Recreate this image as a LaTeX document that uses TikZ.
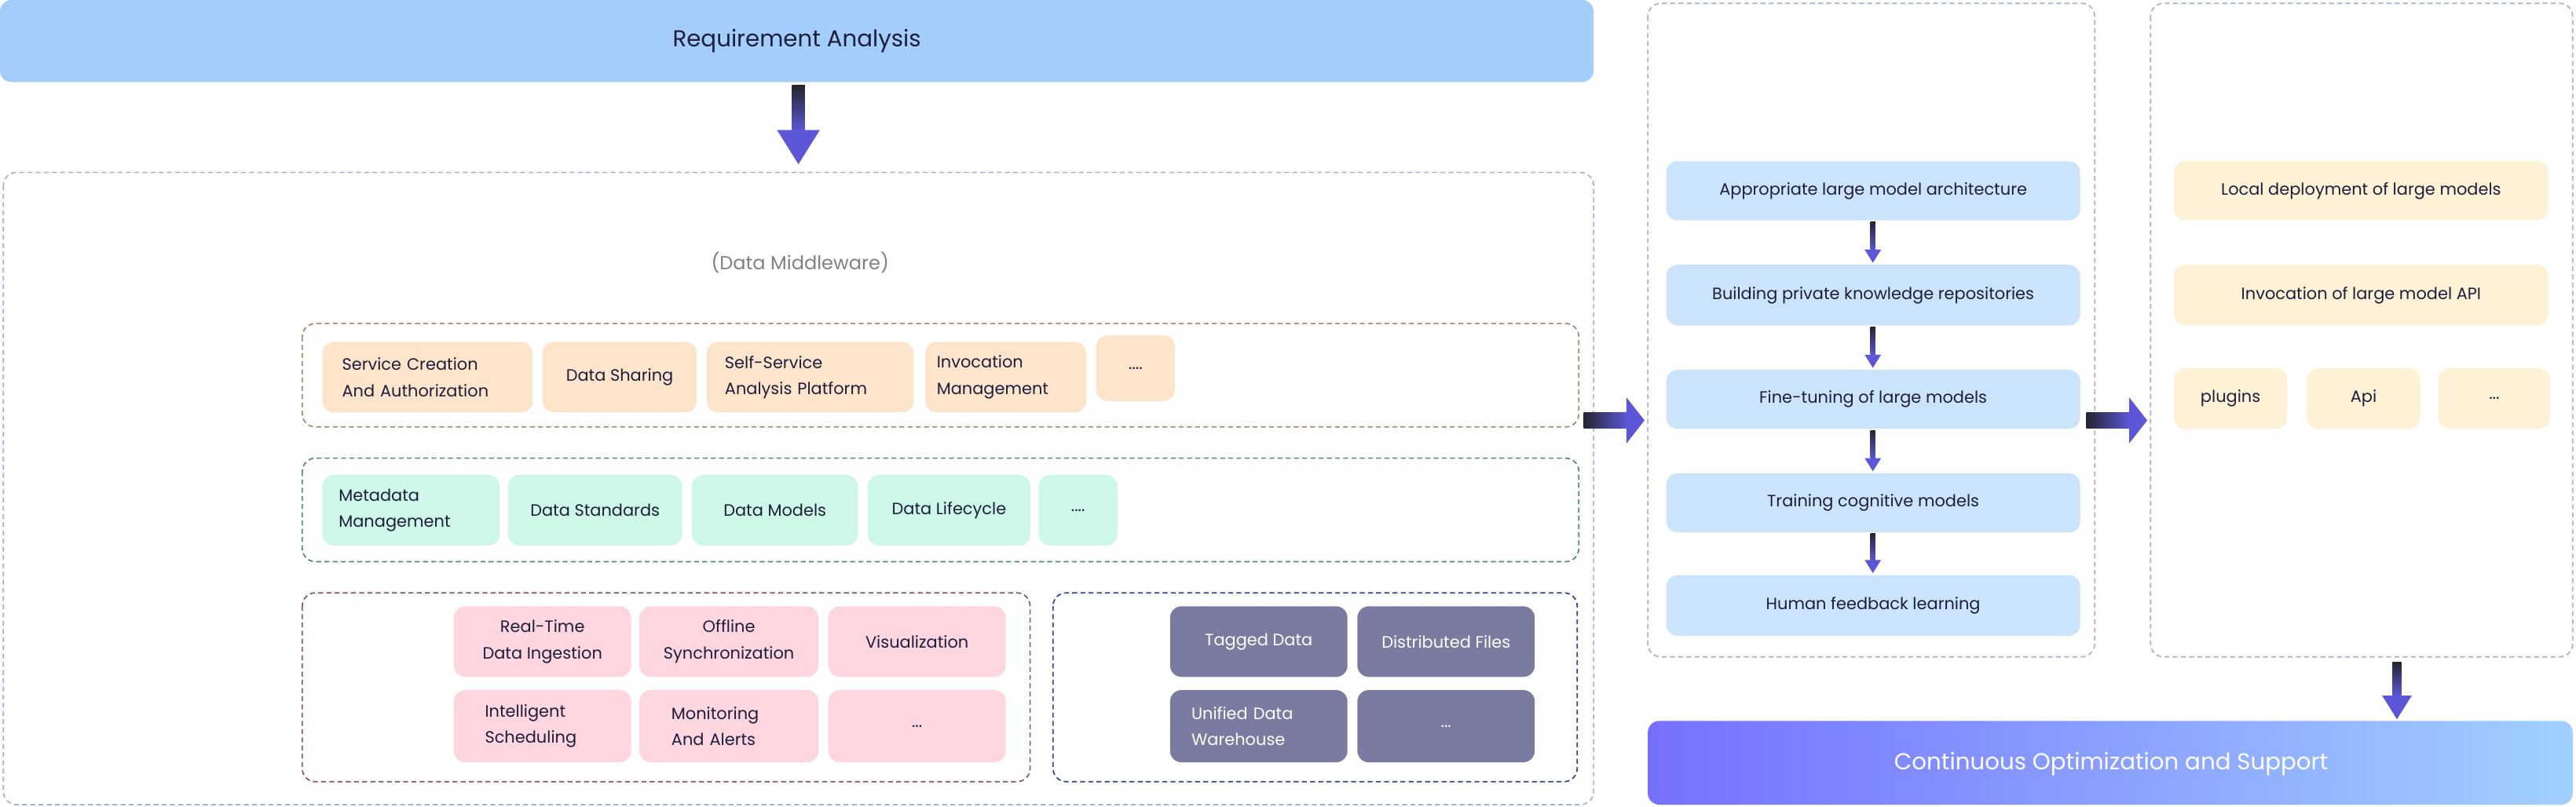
\documentclass[tikz,border=0pt]{standalone}
\usepackage{fontspec}
\setmainfont{Poppins}
\usetikzlibrary{calc}
\definecolor{tx}{HTML}{1E1E3C}
\definecolor{panel}{HTML}{A6B0D0}
\definecolor{arr}{HTML}{5B57D6}
\definecolor{arrd}{HTML}{25252F}
\definecolor{topb}{HTML}{A3CEFB}
\definecolor{orb}{HTML}{FDE5CC}
\definecolor{grb}{HTML}{CDF7E6}
\definecolor{pkb}{HTML}{FDD6DF}
\definecolor{dkb}{HTML}{7A7BA0}
\definecolor{blb}{HTML}{CCE3FC}
\definecolor{ylb}{HTML}{FDF2D6}
\definecolor{gl}{HTML}{7570FF}
\definecolor{gr}{HTML}{A0D0FF}
\definecolor{gbr}{HTML}{A08870}
\definecolor{ggr}{HTML}{4A8A70}
\definecolor{gpk}{HTML}{8A5060}
\definecolor{gnv}{HTML}{3A3F8A}
\tikzset{
  x=1pt,y=-1pt,
  bx/.style={rounded corners=7pt,inner sep=0pt,font=\fontsize{10}{16}\selectfont,text=tx},
  grp/.style={draw,rounded corners=8pt,line width=0.8pt,dash pattern=on 3pt off 2pt},
}
\newcommand{\bbox}[6]{\node[bx,fill=#1,minimum width=#4-#2,minimum height=#5-#3,anchor=north west,#6] at (#2,#3)}
\newcommand{\darr}[4]{%
  \shade[top color=arrd,bottom color=arr] ($(#1,#2)+(-1.5*#4,0)$) rectangle ($(#1,#3)+(1.5*#4,-8*#4)$);
  \fill[arr] ($(#1,#3)+(-5*#4,-8*#4)$) -- ($(#1,#3)+(5*#4,-8*#4)$) -- (#1,#3) -- cycle;}
\newcommand{\rarr}[4]{%
  \shade[left color=arrd,right color=arr] ($(#2,#1)+(0,-5*#4)$) rectangle ($(#3,#1)+(-11*#4,5*#4)$);
  \fill[arr] ($(#3,#1)+(-11*#4,-14*#4)$) -- ($(#3,#1)+(-11*#4,14*#4)$) -- (#3,#1) -- cycle;}
\begin{document}
\begin{tikzpicture}
\useasboundingbox (0,0) rectangle (1568,491);
\fill[topb,rounded corners=7pt] (0,0) rectangle (970,50);
\node[font=\fontsize{14}{16}\selectfont,text=tx] (req) at (485,25) {Requirement Analysis};
\darr{486}{52}{100}{2.6}
\draw[grp,draw=panel] (2,105) rectangle (970,490);
\node[font=\fontsize{11.5}{14}\selectfont,text=gray] (dm) at (487,160) {(Data Middleware)};
\draw[grp,draw=gbr] (184,197) rectangle (961,260);
\bbox{orb}{196}{208}{324}{251}{align=left,text width=104pt} (s1) {Service Creation\\And Authorization};
\bbox{orb}{330}{208}{424}{251}{} (s2) {Data Sharing};
\bbox{orb}{430}{208}{556}{251}{align=left,text width=104pt} (s3) {Self-Service\\Analysis Platform};
\bbox{orb}{563}{208}{661}{251}{align=left,text width=84pt} (s4) {Invocation\\Management};
\bbox{orb}{667}{204}{715}{244}{} (s5) {....};
\draw[grp,draw=ggr] (184,279) rectangle (961,342);
\bbox{grb}{196}{289}{304}{332}{align=left,text width=88pt} (g1) {Metadata\\Management};
\bbox{grb}{309}{289}{415}{332}{} (g2) {Data Standards};
\bbox{grb}{421}{289}{522}{332}{} (g3) {Data Models};
\bbox{grb}{528}{289}{627}{332}{} (g4) {Data Lifecycle};
\bbox{grb}{632}{289}{680}{332}{} (g5) {....};
\draw[grp,draw=gpk] (184,361) rectangle (627,476);
\bbox{pkb}{276}{369}{384}{412}{align=center} (p1) {Real-Time\\Data Ingestion};
\bbox{pkb}{389}{369}{498}{412}{align=center} (p2) {Offline\\Synchronization};
\bbox{pkb}{504}{369}{612}{412}{} (p3) {Visualization};
\bbox{pkb}{276}{420}{384}{464}{align=left,text width=70pt} (p4) {Intelligent\\Scheduling};
\bbox{pkb}{389}{420}{498}{464}{align=left,text width=70pt} (p5) {Monitoring\\And Alerts};
\bbox{pkb}{504}{420}{612}{464}{} (p6) {...};
\draw[grp,draw=gnv] (641,361) rectangle (960,476);
\bbox{dkb}{712}{369}{820}{412}{text=white} (d1) {Tagged Data};
\bbox{dkb}{826}{369}{934}{412}{text=white} (d2) {Distributed Files};
\bbox{dkb}{712}{420}{820}{464}{text=white,align=left,text width=82pt} (d3) {Unified Data\\Warehouse};
\bbox{dkb}{826}{420}{934}{464}{text=white} (d4) {...};
\rarr{256}{964}{1001}{1}
\draw[grp,draw=panel] (1003,2) rectangle (1275,400);
\bbox{blb}{1014}{98}{1266}{134}{} (m1) {Appropriate large model architecture};
\bbox{blb}{1014}{161}{1266}{198}{} (m2) {Building private knowledge repositories};
\bbox{blb}{1014}{225}{1266}{261}{} (m3) {Fine-tuning of large models};
\bbox{blb}{1014}{288}{1266}{324}{} (m4) {Training cognitive models};
\bbox{blb}{1014}{350}{1266}{387}{} (m5) {Human feedback learning};
\darr{1140}{135}{160}{1}
\darr{1140}{199}{224}{1}
\darr{1140}{262}{287}{1}
\darr{1140}{325}{349}{1}
\rarr{256}{1270}{1307}{1}
\draw[grp,draw=panel] (1309,2) rectangle (1566,400);
\bbox{ylb}{1323}{98}{1551}{134}{} (r1) {Local deployment of large models};
\bbox{ylb}{1323}{161}{1551}{198}{} (r2) {Invocation of large model API};
\bbox{ylb}{1323}{224}{1392}{261}{} (r3) {plugins};
\bbox{ylb}{1404}{224}{1473}{261}{} (r4) {Api};
\bbox{ylb}{1484}{224}{1552}{261}{} (r5) {...};
\darr{1459}{403}{438}{1.8}
\shade[left color=gl,right color=gr,rounded corners=7pt] (1003,439) rectangle (1566,490);
\node[font=\fontsize{14}{16}\selectfont,text=white] (cos) at (1285,465) {Continuous Optimization and Support};
\end{tikzpicture}
\end{document}
